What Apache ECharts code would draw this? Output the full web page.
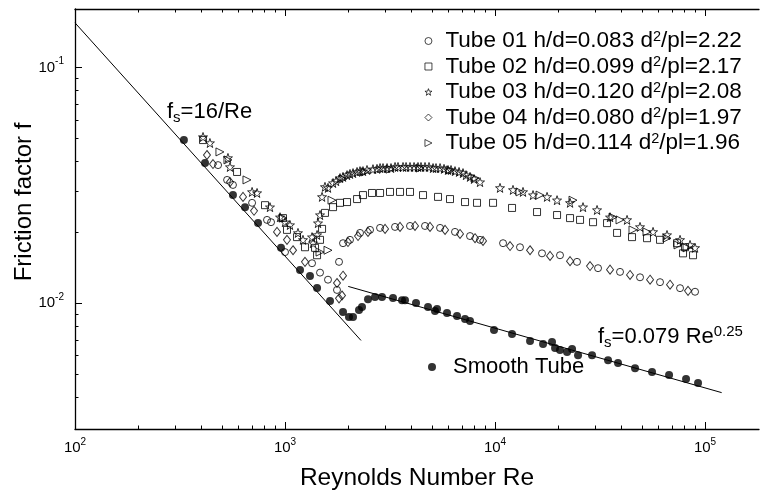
<!DOCTYPE html>
<html><head><meta charset="utf-8">
<script src="https://cdn.jsdelivr.net/npm/echarts@6/dist/echarts.min.js"></script>
<style>html,body{margin:0;padding:0;background:#fff}#c{width:761px;height:490px}</style>
</head><body><div id="c"></div>
<script>
const FONT = "Liberation Sans, Arial, sans-serif";
const tubeNames = [
  'Tube 01 h/d=0.083 d²/pl=2.22',
  'Tube 02 h/d=0.099 d²/pl=2.17',
  'Tube 03 h/d=0.120 d²/pl=2.08',
  'Tube 04 h/d=0.080 d²/pl=1.97',
  'Tube 05 h/d=0.114 d²/pl=1.96'
];
const smoothName = 'Smooth Tube';
const xAxisTitle = 'Reynolds Number Re';
const yAxisTitle = 'Friction factor f';

const tube01 = [[480,0.0386],[530,0.0334],[565,0.0318],[697,0.0267],[821,0.0226],[858,0.0221],[1000,0.0165],[1345,0.0148],[1468,0.0135],[1602,0.0126],[1768,0.0114],[1808,0.0150],
  [1889,0.0180],[2039,0.0186],[2276,0.0199],[2540,0.0205],[2835,0.0209],[3341,0.0211],[3937,0.0213],[4642,0.0213],[5473,0.0209],[6449,0.0201],[7603,0.0193],[8483,0.0186],
  [10920,0.0180],[13150,0.0173],[16740,0.0163],[20390,0.0160],[24570,0.0150],[30940,0.0141],[39370,0.0136],[49030,0.0129],[61050,0.0123],[76030,0.0116],[89640,0.0112]];
const tube02 = [[407,0.0493],[591,0.0361],[803,0.0261],[978,0.0230],[1022,0.0205],[1141,0.0191],[1245,0.0173],[1390,0.0172],[1421,0.0160],
  [1468,0.0186],[1501,0.0207],[1550,0.0242],[1693,0.0256],[1828,0.0267],[1974,0.0269],[2203,0.0277],[2351,0.0288],[2596,0.0294],[2835,0.0294],[3162,0.0297],[3529,0.0297],[3937,0.0297],[4541,0.0288],[5353,0.0283],[6105,0.0277],[7197,0.0269],[8209,0.0267],[9784,0.0267],
  [12050,0.0254],[15850,0.0244],[19740,0.0237],[22760,0.0230],[25400,0.0226],[29290,0.0221],[34150,0.0219],[38110,0.0199],[44910,0.0191],[52940,0.0189],[61050,0.0186],[73560,0.0180],[80310,0.0173],[78570,0.0163],[87670,0.0160]];
const tube03 = [[407,0.0508],[439,0.0479],[535,0.0414],[547,0.0379],[697,0.0297],[736,0.0294],[848,0.0256],[947,0.0232],[1000,0.0221],[1056,0.0215],[1153,0.0199],[1218,0.0186],[1345,0.0191],[1360,0.0180],
  [1421,0.0195],[1436,0.0219],[1468,0.0237],[1501,0.0283],[1550,0.0312],[1602,0.0309],[1693,0.0324],[1750,0.0330],[1828,0.0340],[1889,0.0344],[1974,0.0350],[2039,0.0354],[2108,0.0357],[2203,0.0361],[2276,0.0364],[2351,0.0364],[2457,0.0368],[2624,0.0371],[2742,0.0372],[2835,0.0375],[2929,0.0375],[3061,0.0375],[3197,0.0375],[3341,0.0379],[3452,0.0379],[3647,0.0379],[3770,0.0379],[3937,0.0379],[4116,0.0379],[4298,0.0379],[4442,0.0379],[4642,0.0379],[4850,0.0379],[5068,0.0375],[5236,0.0375],[5473,0.0375],[5717,0.0372],[5972,0.0368],[6173,0.0368],[6449,0.0364],[6740,0.0361],[7040,0.0357],[7277,0.0350],[7603,0.0344],[7943,0.0337],[8483,0.0327],
  [10563,0.0309],[12180,0.0303],[13590,0.0297],[15170,0.0288],[17690,0.0283],[19740,0.0274],[22760,0.0267],[26240,0.0256],[30610,0.0249],[35290,0.0232],[42530,0.0226],[49030,0.0211],[56560,0.0201],[65910,0.0195],[76030,0.0186],[84830,0.0177],[89640,0.0172]];
const tube04 = [[425,0.0426],[454,0.0390],[547,0.0327],[631,0.0283],[712,0.0247],[916,0.0201],[1022,0.0186],[1092,0.0168],[1245,0.0150],[1889,0.0131],[1868,0.0108],[1808,0.0105],[1768,0.0122],
  [1995,0.0182],[2227,0.0193],[2484,0.0201],[2995,0.0207],[3529,0.0211],[4159,0.0213],[4903,0.0211],[5782,0.0205],[6812,0.0197],[8031,0.0189],[8767,0.0184],
  [11790,0.0175],[14680,0.0168],[18280,0.0159],[22760,0.0151],[28340,0.0144],[35290,0.0139],[43940,0.0132],[54730,0.0126],[68130,0.0120],[82990,0.0113]];
const tube05 = [[490,0.0439],[535,0.0406],[659,0.0334],[978,0.0230],[1468,0.0165],[1602,0.0168],[1674,0.0274],
  [1889,0.0337],[2404,0.0361],[3162,0.0371],[4394,0.0375],[6105,0.0368],[8031,0.0340],
  [13150,0.0297],[16380,0.0288],[23510,0.0274],[36470,0.0232],[39370,0.0226],[45400,0.0205],[52940,0.0201],[65910,0.0189],[74360,0.0177],[82090,0.0172]];
const smooth = [[330,0.0493],[416,0.0394],[565,0.0288],[645,0.0256],[744,0.0219],[957,0.0172],[1179,0.01385],[1315,0.01306],[1421,0.01161],[1638,0.01022],[1889,0.00919],[2017,0.00875],[2108,0.00875],[2251,0.00937],[2326,0.00965],[2484,0.01042],[2683,0.01063],
  [2897,0.01063],[3268,0.01053],[3607,0.01032],[3727,0.01032],[4205,0.01003],[4797,0.00965],[5179,0.00928],[5296,0.00946],[5907,0.00910],[6592,0.00883],[7197,0.00858],[7603,0.00841],[9890,0.00770],[12050,0.00741],[14680,0.00692],[16930,0.00672],[18680,0.00685],[19310,0.00646],[20390,0.00634],[22030,0.00622],[23270,0.00640],[24850,0.00603],[28970,0.00603],[34530,0.00574],[38520,0.00558],[46420,0.00531],[55930,0.00511],[67410,0.00496],[81200,0.00477],[92620,0.00459]];
const laminarLine = [[100,0.155],[2300,0.00696]];
const turbulentLine = [[2000,0.0118],[120000,0.00418]];

const xMajorTicks = [100,1000,10000,100000];
const xMinorTicks = [200,300,400,500,600,700,800,900,2000,3000,4000,5000,6000,7000,8000,9000,20000,30000,40000,50000,60000,70000,80000,90000];
const yMajorTicks = [0.01,0.1];
const yMinorTicks = [0.004,0.005,0.006,0.007,0.008,0.009,0.02,0.03,0.04,0.05,0.06,0.07,0.08,0.09];
const X_MIN = 100, X_MAX = 180700, Y_MIN = 0.00293, Y_MAX = 0.1774;

const STAR = 'path://M0,-10L2.35,-3.24L9.51,-3.09L3.8,1.24L5.88,8.09L0,4L-5.88,8.09L-3.8,1.24L-9.51,-3.09L-2.35,-3.24Z';
const TRI_RIGHT = 'path://M0,0L10,5L0,10Z';
const open = {color:'rgba(255,255,255,0)', borderColor:'#000', borderWidth:1};

function expLabel(v){ const e = Math.round(Math.log10(v)); return '{n|10}{s|' + e + '}'; }
const labelRich = {
  n:{fontSize:15, fontFamily:FONT, color:'#000', lineHeight:22},
  s:{fontSize:10, fontFamily:FONT, color:'#000', verticalAlign:'top', lineHeight:10}
};
const labelBase = {fontSize:15, fontFamily:FONT, color:'#000', lineHeight:22, rich:labelRich, formatter:expLabel};

function xAx(pos, major){
  return {type:'log', logBase:10, min:X_MIN, max:X_MAX, position:pos, gridIndex:0,
    axisLine:{show:major, onZero:false, lineStyle:{color:'#000', width:1.3}},
    axisTick:{show:true, inside:true, length: major?7:3.5, customValues: major?xMajorTicks:xMinorTicks, lineStyle:{color:'#000', width:1}},
    axisLabel:Object.assign({show: major && pos==='bottom', customValues:xMajorTicks, margin:8}, labelBase),
    splitLine:{show:false}, minorTick:{show:false},
    name: (major && pos==='bottom') ? xAxisTitle : '',
    nameLocation:'middle', nameGap:37, nameTextStyle:{fontSize:24.5, fontFamily:FONT, color:'#000'}};
}
function yAx(major){
  return {type:'log', logBase:10, min:Y_MIN, max:Y_MAX, position:'left', gridIndex:0,
    axisLine:{show:major, onZero:false, lineStyle:{color:'#000', width:1.3}},
    axisTick:{show:true, inside:true, length: major?7:3.5, customValues: major?yMajorTicks:yMinorTicks, lineStyle:{color:'#000', width:1}},
    axisLabel:Object.assign({show: major, customValues:yMajorTicks, margin:11}, labelBase),
    splitLine:{show:false}, minorTick:{show:false}};
}

function sc(name, data, symbol, size, extra){
  return Object.assign({type:'scatter', name, data, symbol, symbolSize:size, itemStyle:open, xAxisIndex:0, yAxisIndex:0, z:3}, extra||{});
}
const legendRich = { b:{fontSize:22.5, fontFamily:FONT, color:'#000', lineHeight:24}, s:{fontSize:14.5, fontFamily:FONT, color:'#000', verticalAlign:'top', lineHeight:14} };
const legendIcons = ['circle','rect',STAR,'diamond',TRI_RIGHT];

const chart = echarts.init(document.getElementById('c'), null, {renderer:'canvas'});
chart.setOption({
  animation:false,
  backgroundColor:'#fff',
  textStyle:{fontFamily:FONT},
  grid:{left:75, right:2, top:9, bottom:61, containLabel:false, outerBoundsMode:'none'},
  xAxis:[xAx('bottom',true), xAx('bottom',false), xAx('top',true), xAx('top',false)],
  yAxis:[yAx(true), yAx(false)],
  legend:[{
    data: tubeNames.map((n,i)=>({name:n, icon:legendIcons[i]})), orient:'vertical', left:419.5, top:24, itemWidth:7, itemHeight:7, itemGap:2,
    itemStyle:{borderWidth:0.9},
    formatter: n => { const p = n.split('²'); return '{b|' + p[0] + '}{s|2}{b|' + p[1] + '}'; },
    textStyle:{fontSize:22.5, fontFamily:FONT, color:'#000', padding:[0,0,0,8.5], rich:legendRich}
  },{
    data:[smoothName], left:423, top:351, itemWidth:8, itemHeight:8,
    textStyle:{fontSize:22, fontFamily:FONT, color:'#000', padding:[0,0,0,12]}
  }],
  graphic:[
    {type:'text', x:24, y:202, rotation:Math.PI/2, style:{text:yAxisTitle, fontSize:24, fontFamily:FONT, fill:'#000', align:'center', verticalAlign:'middle'}},
    {type:'text', x:167, y:112, style:{text:'{b|f}{u|s}{b|=16/Re}', verticalAlign:'middle', align:'left',
      rich:{b:{fontSize:22, fontFamily:FONT, fill:'#000', lineHeight:26}, u:{fontSize:15, fontFamily:FONT, fill:'#000', verticalAlign:'bottom', lineHeight:15}}}},
    {type:'text', x:598, y:337, style:{text:'{b|f}{u|s}{b|=0.079 Re}{p|0.25}', verticalAlign:'middle', align:'left',
      rich:{b:{fontSize:22, fontFamily:FONT, fill:'#000', lineHeight:26}, u:{fontSize:15, fontFamily:FONT, fill:'#000', verticalAlign:'bottom', lineHeight:15}, p:{fontSize:15, fontFamily:FONT, fill:'#000', verticalAlign:'top', lineHeight:15}}}}
  ],
  series:[
    sc(tubeNames[0], tube01, 'circle', 7),
    sc(tubeNames[1], tube02, 'rect', 7),
    sc(tubeNames[2], tube03, STAR, 9),
    sc(tubeNames[3], tube04, 'diamond', [7,9]),
    sc(tubeNames[4], tube05, 'triangle', 8, {symbolRotate:-90}),
    {type:'scatter', name:smoothName, data:smooth, symbol:'circle', symbolSize:8, itemStyle:{color:'#000'}, z:4},
    {type:'line', data:laminarLine, symbol:'none', lineStyle:{color:'#000', width:1}, z:2, silent:true},
    {type:'line', data:turbulentLine, symbol:'none', lineStyle:{color:'#000', width:1}, z:2, silent:true}
  ]
});
</script></body></html>
